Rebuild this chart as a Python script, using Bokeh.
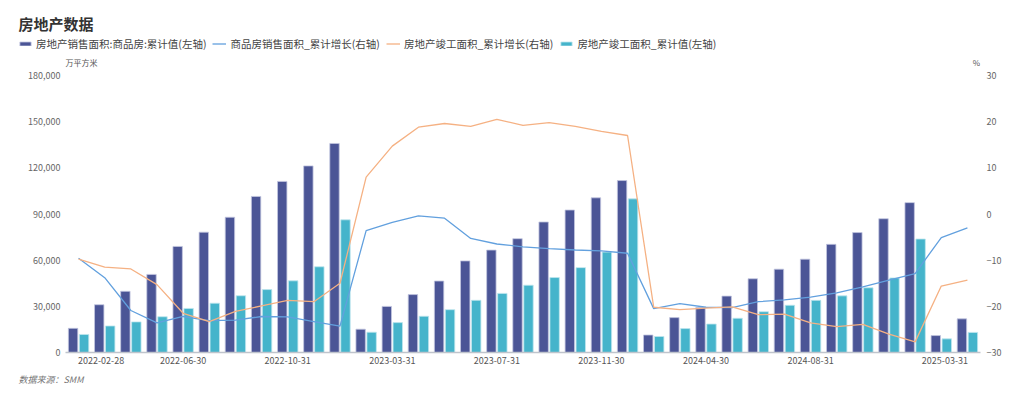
from bokeh.plotting import figure
from bokeh.models import (ColumnDataSource, Range1d, LinearAxis, FixedTicker,
                          NumeralTickFormatter, Legend, LegendItem, Label, Title)
from bokeh.transform import dodge
from bokeh.embed import file_html
from bokeh.resources import INLINE

# ---------------- data ----------------
dates = ["2022-02-28", "2022-03-31", "2022-04-30", "2022-05-31", "2022-06-30", "2022-07-31",
         "2022-08-31", "2022-09-30", "2022-10-31", "2022-11-30", "2022-12-31",
         "2023-02-28", "2023-03-31", "2023-04-30", "2023-05-31", "2023-06-30", "2023-07-31",
         "2023-08-31", "2023-09-30", "2023-10-31", "2023-11-30", "2023-12-31",
         "2024-02-29", "2024-03-31", "2024-04-30", "2024-05-31", "2024-06-30", "2024-07-31",
         "2024-08-31", "2024-09-30", "2024-10-31", "2024-11-30", "2024-12-31",
         "2025-02-28", "2025-03-31"]

sales_area = [15703, 31046, 39768, 50738, 68923, 78178, 87890, 101422, 111179, 121250, 135837,
              15133, 29946, 37636, 46440, 59515, 66563, 73949, 84806, 92579, 100509, 111735,
              11369, 22668, 29252, 36642, 47916, 54139, 60649, 70284, 77930, 86924, 97385,
              10998, 21869]

sales_yoy = [-9.6, -13.8, -20.9, -23.6, -22.2, -23.1, -23.0, -22.2, -22.3, -23.3, -24.3,
             -3.6, -1.8, -0.4, -0.9, -5.3, -6.5, -7.1, -7.5, -7.8, -8.0, -8.5,
             -20.5, -19.4, -20.2, -20.3, -19.0, -18.6, -18.0, -17.1, -15.8, -14.3, -12.9,
             -5.1, -3.0]

completed_area = [11712, 17246, 19893, 23233, 28636, 32029, 36880, 40879, 46565, 55709, 86222,
                  13178, 19422, 23551, 27826, 33904, 38405, 43726, 48705, 55151, 65237, 99831,
                  10395, 15530, 18497, 22245, 26519, 30705, 33876, 36816, 42038, 48465, 73743,
                  8856, 13060]

completed_yoy = [-9.8, -11.5, -11.9, -15.3, -21.5, -23.3, -21.1, -19.9, -18.7, -19.0, -15.0,
                 8.0, 14.7, 18.8, 19.6, 19.0, 20.5, 19.2, 19.8, 19.0, 17.9, 17.0,
                 -20.2, -20.7, -20.4, -20.1, -21.8, -21.7, -23.6, -24.4, -23.9, -26.0, -27.7,
                 -15.6, -14.3]

series_names = ["房地产销售面积:商品房:累计值(左轴)", "商品房销售面积_累计增长(右轴)",
                "房地产竣工面积_累计增长(右轴)", "房地产竣工面积_累计值(左轴)"]
title_text = "房地产数据"
left_unit = "万平方米"
right_unit = "%"
source_text = "数据来源：SMM"
label_idx = [0, 4, 8, 12, 16, 20, 24, 28, 34]
left_ticks = [0, 30000, 60000, 90000, 120000, 150000, 180000]
right_ticks = [-30, -20, -10, 0, 10, 20, 30]

# ---------------- style / layout ----------------
FONT = "Noto Sans CJK SC"
DARK = "#4b5596"
CYAN = "#45b4cb"
BLUE = "#62a0de"
ORANGE = "#f5b183"
DARK_EDGE = "#c3c7e0"
CYAN_EDGE = "#bfe6ee"

W, H = 1022, 398
F_LEFT, F_RIGHT, F_TOP, F_BOTTOM = 10, 980, 0, 352   # drawing frame (px)
PLOT_LEFT = 65          # where the category band starts
AXIS_TOP = 75           # px of the top tick
TICK_LABEL_RIGHT = 60   # right edge of left tick labels

n = len(dates)
px_per_cat = (F_RIGHT - PLOT_LEFT) / n
x_start = -0.5 - (PLOT_LEFT - F_LEFT) / px_per_cat
x_end = n - 0.5
frame_h = F_BOTTOM - F_TOP
axis_h = F_BOTTOM - AXIS_TOP
y_end = left_ticks[-1] * frame_h / axis_h
r_end = right_ticks[0] + (right_ticks[-1] - right_ticks[0]) * frame_h / axis_h

idx = list(range(n))
src = ColumnDataSource(dict(x=idx, date=dates, sa=sales_area, sy=sales_yoy,
                            ca=completed_area, cy=completed_yoy))

p = figure(width=W, height=H, output_backend="svg", toolbar_location=None,
           title_location=None,
           x_range=Range1d(x_start, x_end), y_range=Range1d(left_ticks[0], y_end),
           min_border_left=F_LEFT, min_border_right=W - F_RIGHT,
           min_border_top=F_TOP, min_border_bottom=H - F_BOTTOM,
           background_fill_color="white", border_fill_color="white")
p.outline_line_color = None
p.xgrid.visible = False
p.ygrid.visible = False
p.extra_y_ranges = {"pct": Range1d(right_ticks[0], r_end)}

r_sa = p.vbar(x=dodge("x", -0.21), top="sa", width=0.36, source=src,
              fill_color=DARK, line_color=DARK_EDGE, line_width=0.8)
r_ca = p.vbar(x=dodge("x", 0.21), top="ca", width=0.36, source=src,
              fill_color=CYAN, line_color=CYAN_EDGE, line_width=0.8)
r_sy = p.line("x", "sy", source=src, y_range_name="pct", line_color=BLUE, line_width=1.3)
r_cy = p.line("x", "cy", source=src, y_range_name="pct", line_color=ORANGE, line_width=1.3)


def quiet(ax):
    ax.major_tick_line_color = None
    ax.minor_tick_line_color = None
    ax.major_tick_in = 0
    ax.major_tick_out = 0
    ax.minor_tick_in = 0
    ax.minor_tick_out = 0
    ax.major_label_text_font = FONT
    ax.major_label_text_font_size = "9px"


# x axis
xa = p.xaxis[0]
half = 0.86
tick_pos = []
overrides = {}
for k, i in enumerate(label_idx):
    t = i
    if k == 0:
        t = i + half
    elif k == len(label_idx) - 1:
        t = i - half
    tick_pos.append(t)
    overrides[t] = dates[i]
xa.ticker = FixedTicker(ticks=tick_pos)
xa.major_label_overrides = overrides
xa.bounds = (-0.5, n - 0.5)
quiet(xa)
xa.axis_line_color = "#bfc4cc"
xa.axis_line_width = 1.6
xa.major_label_text_color = "#555555"
xa.major_label_standoff = 4

# left axis (labels pulled in to sit left of the category band)
ya = p.yaxis[0]
ya.ticker = FixedTicker(ticks=left_ticks)
ya.formatter = NumeralTickFormatter(format="0,0")
quiet(ya)
ya.axis_line_color = None
ya.major_label_text_color = "#666666"
ya.major_label_standoff = F_LEFT - TICK_LABEL_RIGHT

# right axis
ra = LinearAxis(y_range_name="pct", ticker=FixedTicker(ticks=right_ticks))
quiet(ra)
ra.axis_line_color = None
ra.major_label_text_color = "#666666"
ra.major_label_standoff = 6
p.add_layout(ra, "right")

# legend
legend = Legend(items=[LegendItem(label=series_names[0], renderers=[r_sa]),
                       LegendItem(label=series_names[1], renderers=[r_sy]),
                       LegendItem(label=series_names[2], renderers=[r_cy]),
                       LegendItem(label=series_names[3], renderers=[r_ca])],
                orientation="horizontal", location=(18 - F_LEFT, F_BOTTOM - 45 - 6),
                glyph_width=14, glyph_height=5, label_standoff=4, spacing=6,
                padding=0, margin=0, border_line_color=None, background_fill_alpha=0,
                label_text_font=FONT, label_text_font_size="10.5px",
                label_text_color="#444444", label_height=12)
p.add_layout(legend, "center")

# title and axis units
p.add_layout(Label(x=18 - F_LEFT, y=F_BOTTOM - 23, x_units="screen", y_units="screen",
                   text=title_text, text_font=FONT, text_font_size="15px",
                   text_font_style="bold", text_color="#333333", text_baseline="middle"))
p.add_layout(Label(x=81 - F_LEFT, y=F_BOTTOM - 62, x_units="screen", y_units="screen",
                   text=left_unit, text_font=FONT, text_font_size="8px",
                   text_color="#555555", text_baseline="middle", text_align="center"))
p.add_layout(Label(x=976 - F_LEFT, y=F_BOTTOM - 62, x_units="screen", y_units="screen",
                   text=right_unit, text_font=FONT, text_font_size="8px",
                   text_color="#555555", text_baseline="middle", text_align="center"))

# source note
p.add_layout(Title(text=source_text, align="left", offset=18 - F_LEFT, standoff=9,
                   text_font=FONT, text_font_size="9px", text_font_style="italic",
                   text_color="#777777"), "below")

open("out.html", "w").write(file_html(p, INLINE))
